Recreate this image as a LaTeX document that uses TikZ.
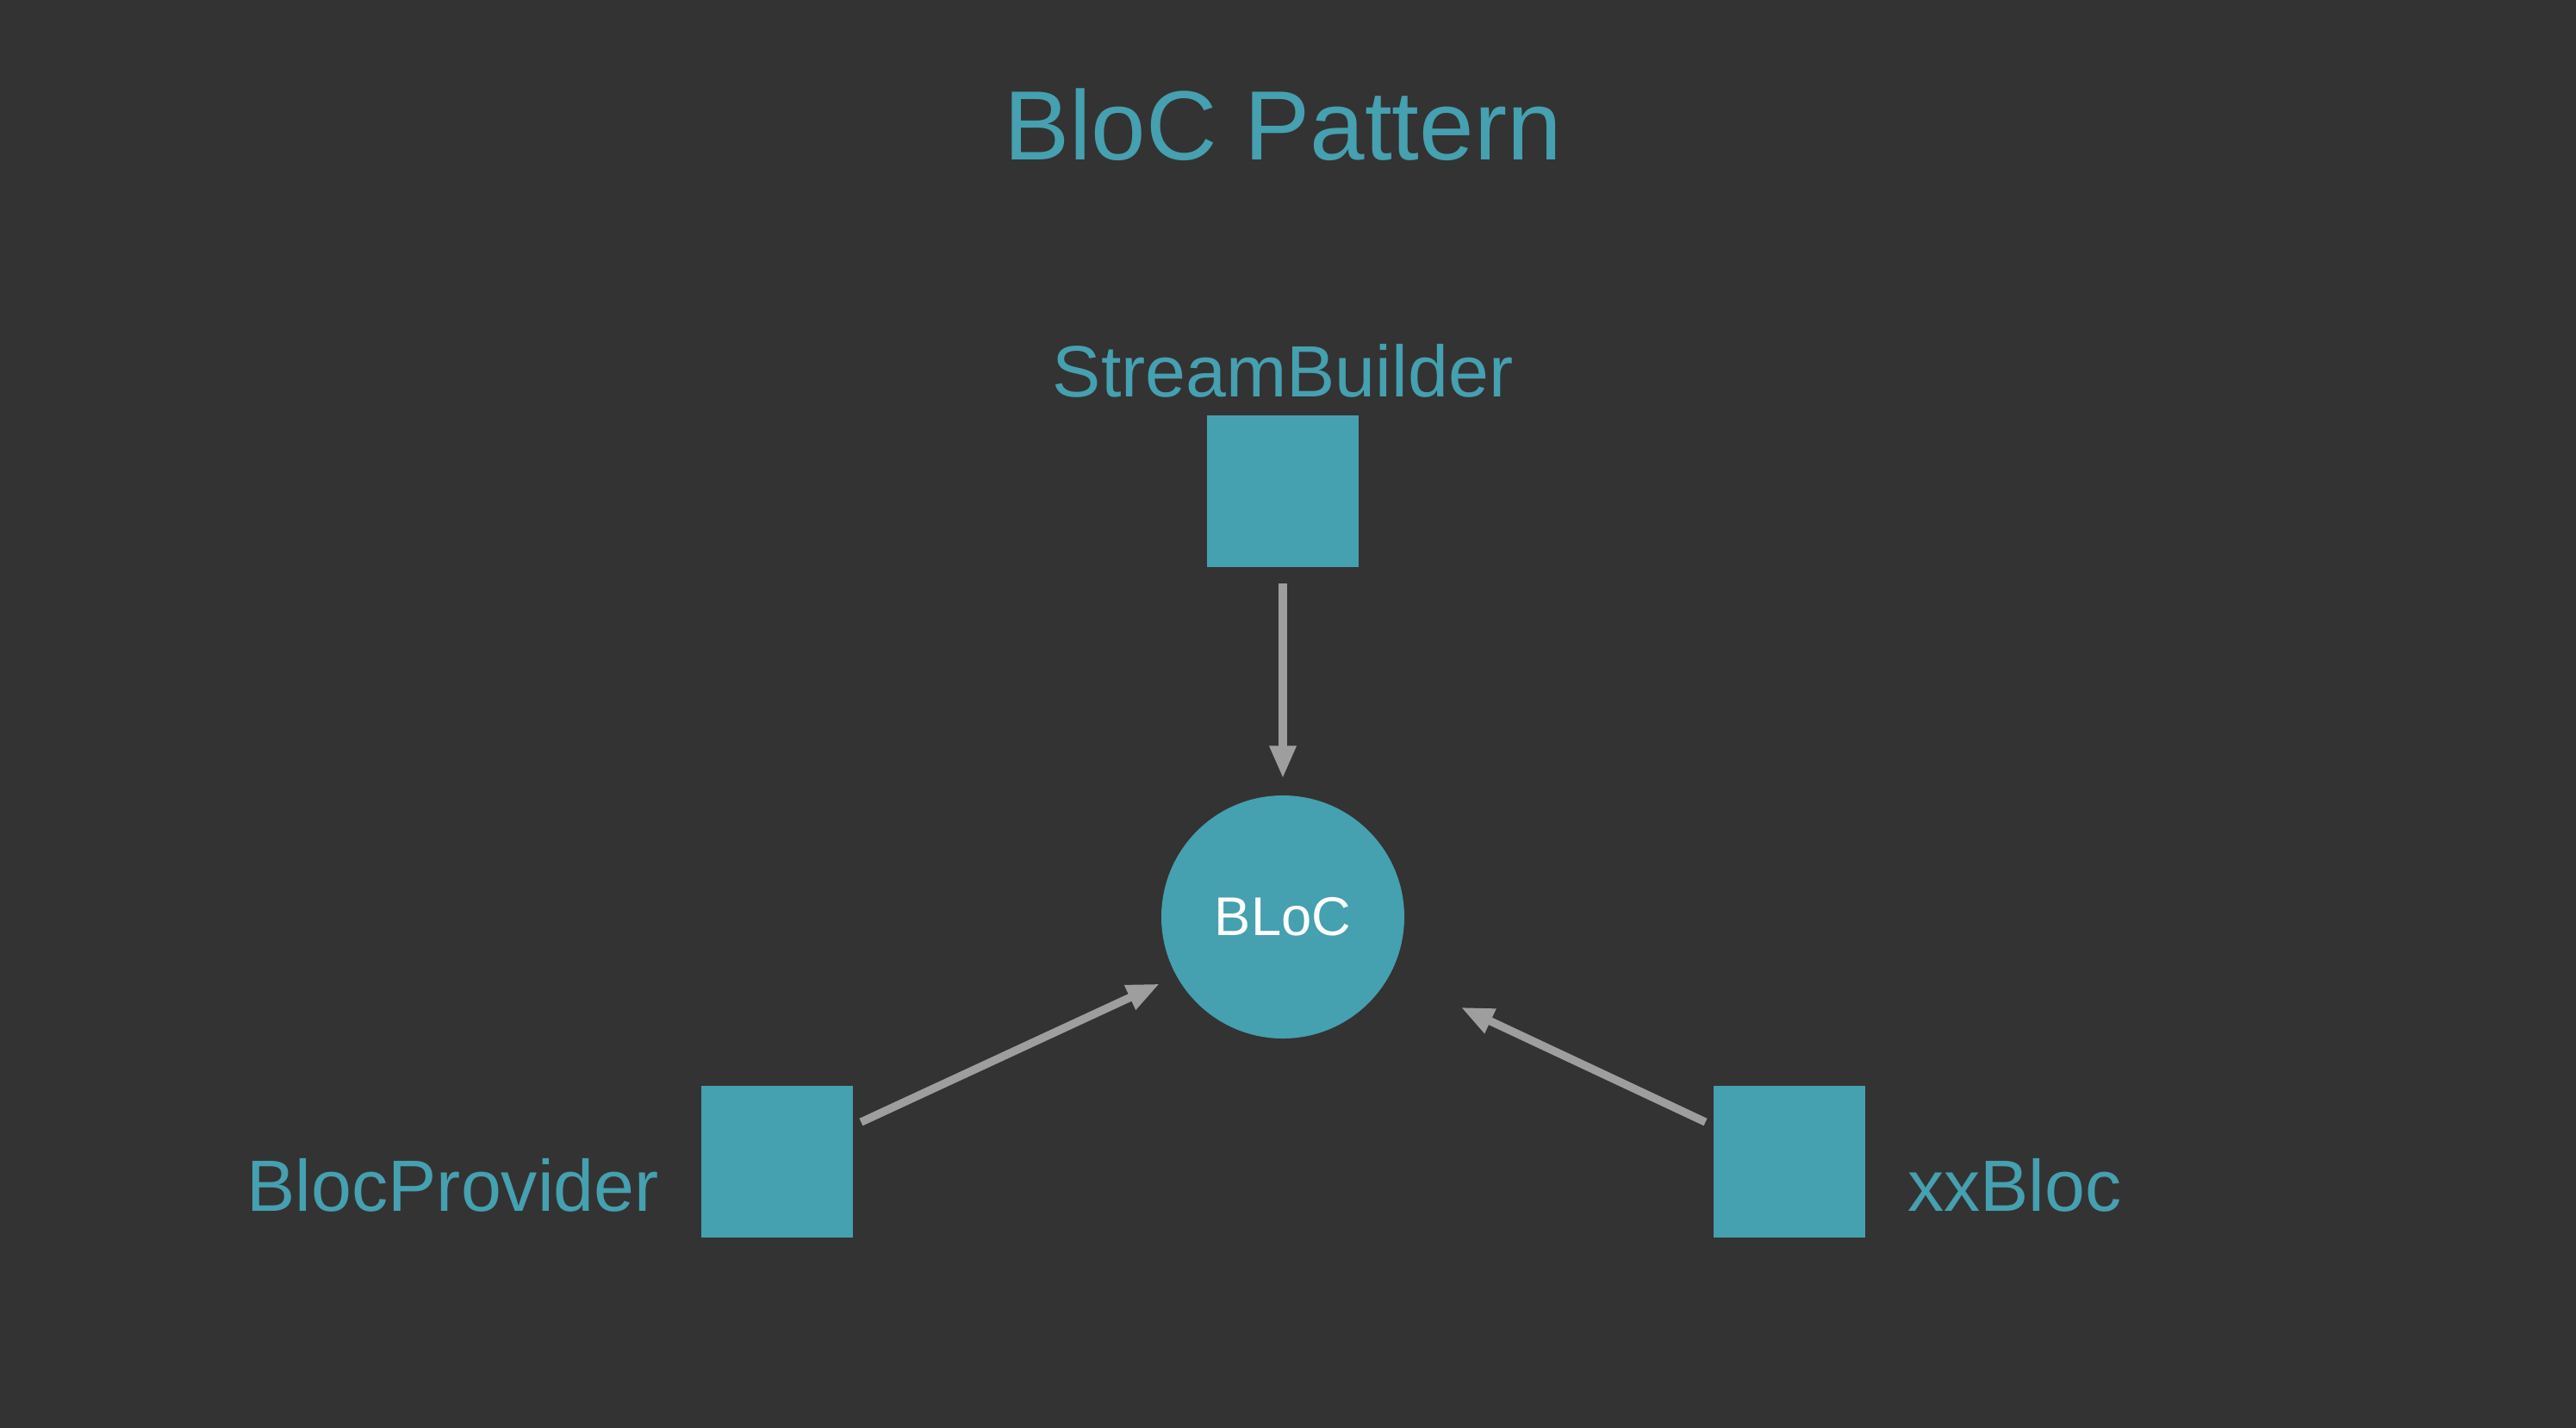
\documentclass[tikz,border=0pt]{standalone}
\usepackage{fontspec}
\setmainfont{Liberation Sans}
\usepackage{tikz}
\usetikzlibrary{positioning,arrows.meta}

\definecolor{bgdark}{HTML}{333333}
\definecolor{blocteal}{HTML}{45A0B0}
\definecolor{linkgrey}{HTML}{9E9E9E}

\begin{document}
\begin{tikzpicture}[font=\fontsize{24}{29}\selectfont, node distance={4.94cm}, on grid,
        box/.style = {fill=blocteal, minimum size=1.755cm, inner sep=0pt},
        core/.style = {circle, fill=blocteal, minimum size=2.82cm, inner sep=0pt, text=white, font=\fontsize{18}{22}\selectfont},
        lbl/.style = {text=blocteal, inner sep=0pt},
        link/.style = {draw=linkgrey, line width=0.93mm, -{Triangle[length=3.8mm, width=2.9mm]}}]
                \useasboundingbox (0,0) rectangle (29.9,-16.56);
                \fill[bgdark] (-0.1,0.1) rectangle (30,-16.66);
                \node[lbl, anchor=base, font=\fontsize{32.5}{39}\selectfont] (title) at (14.89,-1.85) {BloC Pattern};
                \node[core] (bloc) at (14.89,-10.64) {BLoC};
                \node[box] (sb) [above of=bloc] {};
                \node[box] (bp) [below left=2.84cm and 5.87cm of bloc] {};
                \node[box] (xx) [below right=2.84cm and 5.88cm of bloc] {};
                \node[lbl, anchor=base] (sbl) at ([yshift=0.21cm]sb.north) {StreamBuilder};
                \node[lbl, anchor=base east] (bpl) at ([xshift=-0.48cm, yshift=-0.57cm]bp.west) {BlocProvider};
                \node[lbl, anchor=base west] (xxl) at ([xshift=0.48cm, yshift=-0.57cm]xx.east) {xxBloc};
                \draw[link, shorten <=0.19cm, shorten >=0.19cm] (sb.south) -- (bloc.north);
                \draw[link, shorten >=0.21cm] ([xshift=0.09cm, yshift=0.46cm]bp.east) -- (bloc.209.6);
                \draw[link, shorten >=0.9cm] ([xshift=-0.09cm, yshift=0.46cm]xx.west) -- (bloc.332);
            \end{tikzpicture}
\end{document}
